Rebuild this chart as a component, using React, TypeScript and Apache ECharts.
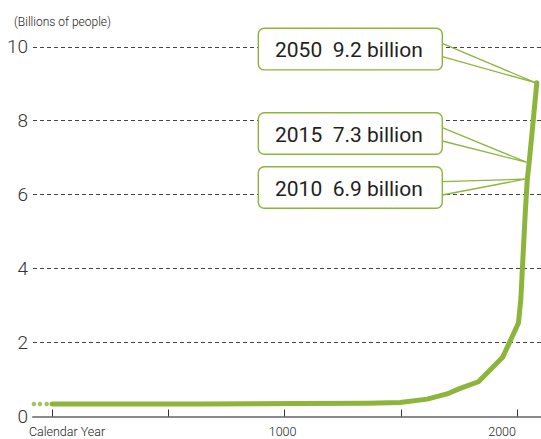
import React, { useEffect, useRef } from "react";
import * as echarts from "echarts";

// Curve as drawn (x = position on the calendar-year axis, y = billions of people)
const years = [0, 637, 1067, 1355, 1497, 1613, 1699, 1755, 1834, 1938, 2006, 2016, 2027, 2036, 2044, 2053, 2067, 2085];
const population = [0.34, 0.34, 0.35, 0.36, 0.38, 0.47, 0.61, 0.76, 0.94, 1.6, 2.53, 3.15, 4.5, 5.59, 6.4, 6.94, 7.84, 9.03];

// dotted lead-in before year 0
const leadYears = [-78, -52, -23];
const leadPopulation = [0.34, 0.34, 0.34];

const xTickYears = [0, 500, 1000, 1500, 2000];
const xLabelYears = [0, 1000, 2000];
const xLabelText = ["Calendar Year", "1000", "2000"];

const calloutText = ["2050  9.2 billion", "2015  7.3 billion", "2010  6.9 billion"];
const calloutYears = [2085, 2046, 2040];
const calloutPopulation = [9.03, 6.88, 6.42];

const GREEN = "#8db53c";
const FONT = 'Roboto, "Liberation Sans Narrow", "DejaVu Sans Condensed", sans-serif';

export default function App() {
  const ref = useRef<HTMLDivElement>(null);
  useEffect(() => {
    if (!ref.current) return;
    const chart = echarts.init(ref.current, undefined, { renderer: "svg" });
    chart.setOption({
      animation: false,
      backgroundColor: "#ffffff",
      textStyle: { fontFamily: FONT },
      title: {
        text: "(Billions of people)",
        left: 9,
        top: 11,
        textStyle: { fontFamily: FONT, fontSize: 12, fontWeight: 300, color: "#222" },
      },
      grid: { left: 33, right: 0, top: 46.8, bottom: 22.5 },
      xAxis: {
        type: "value",
        min: -82,
        max: 2103,
        splitLine: { show: false },
        axisLine: { show: true, lineStyle: { color: "#8a8a8a", width: 2 } },
        axisTick: {
          show: true,
          customValues: xTickYears,
          inside: true,
          length: 7,
          lineStyle: { color: "#333", width: 1 },
        },
        axisLabel: {
          customValues: xLabelYears,
          margin: 8,
          fontSize: 12.5,
          fontWeight: 300,
          color: "#222",
          fontFamily: FONT,
          formatter: (v: number) => {
            const i = xLabelYears.indexOf(v);
            const t = i >= 0 ? xLabelText[i] : "";
            if (i === 0) return "{first|" + t + "}";
            if (i === 2) return "{last|" + t + "}";
            return "{mid|" + t + "}";
          },
          rich: {
            first: { padding: [0, 0, 0, 30], fontSize: 12.5, fontWeight: 300, color: "#222", fontFamily: FONT },
            mid: { padding: [0, 4, 0, 0], fontSize: 12.5, fontWeight: 300, color: "#222", fontFamily: FONT },
            last: { padding: [0, 30, 0, 0], fontSize: 12.5, fontWeight: 300, color: "#222", fontFamily: FONT },
          },
        },
      },
      yAxis: {
        type: "value",
        min: 0,
        max: 10,
        interval: 2,
        axisLine: { show: false },
        axisTick: { show: false },
        axisLabel: { fontSize: 19, fontWeight: 300, color: "#333", margin: 5, fontFamily: FONT },
        splitLine: { show: true, lineStyle: { color: "#444", type: [4, 3], width: 1 } },
      },
      series: [
        {
          type: "line",
          data: years.map((y, i) => [y, population[i]]),
          showSymbol: false,
          smooth: false,
          lineStyle: { color: GREEN, width: 5, cap: "round", join: "round" },
          z: 3,
        },
        {
          type: "scatter",
          data: leadYears.map((y, i) => [y, leadPopulation[i]]),
          symbolSize: 4.5,
          itemStyle: { color: GREEN },
          z: 3,
        },
      ],
    });

    const boxLeft = 258.3;
    const boxWidth = 184;
    const boxHeight = 41.6;
    const boxTops = [28.3, 112.7, 166.7];
    const elements: any[] = [];
    calloutText.forEach((txt, i) => {
      const p = chart.convertToPixel({ gridIndex: 0 }, [calloutYears[i], calloutPopulation[i]]) as number[];
      const top = boxTops[i];
      const right = boxLeft + boxWidth;
      elements.push({
        type: "line",
        shape: { x1: right, y1: top + 15, x2: p[0] - 1.5, y2: p[1] },
        style: { stroke: GREEN, lineWidth: 1.3 },
        z: 10,
      });
      elements.push({
        type: "line",
        shape: { x1: right, y1: top + 28.3, x2: p[0] - 1.5, y2: p[1] },
        style: { stroke: GREEN, lineWidth: 1.3 },
        z: 10,
      });
      elements.push({
        type: "rect",
        shape: { x: boxLeft, y: top, width: boxWidth, height: boxHeight, r: 6 },
        style: { fill: "#ffffff", stroke: GREEN, lineWidth: 1.4 },
        z: 11,
      });
      elements.push({
        type: "text",
        x: boxLeft + 16.7,
        y: top + boxHeight / 2 + 1,
        style: {
          text: txt,
          fill: "#231f20",
          fontSize: 21,
          fontWeight: 400,
          fontFamily: FONT,
          verticalAlign: "middle",
          align: "left",
        },
        z: 12,
      });
    });
    chart.setOption({ graphic: { elements } });

    return () => chart.dispose();
  }, []);
  return (
    <div
      ref={ref}
      style={{ position: "absolute", left: 0, top: 0, width: 541, height: 439 }}
    />
  );
}
